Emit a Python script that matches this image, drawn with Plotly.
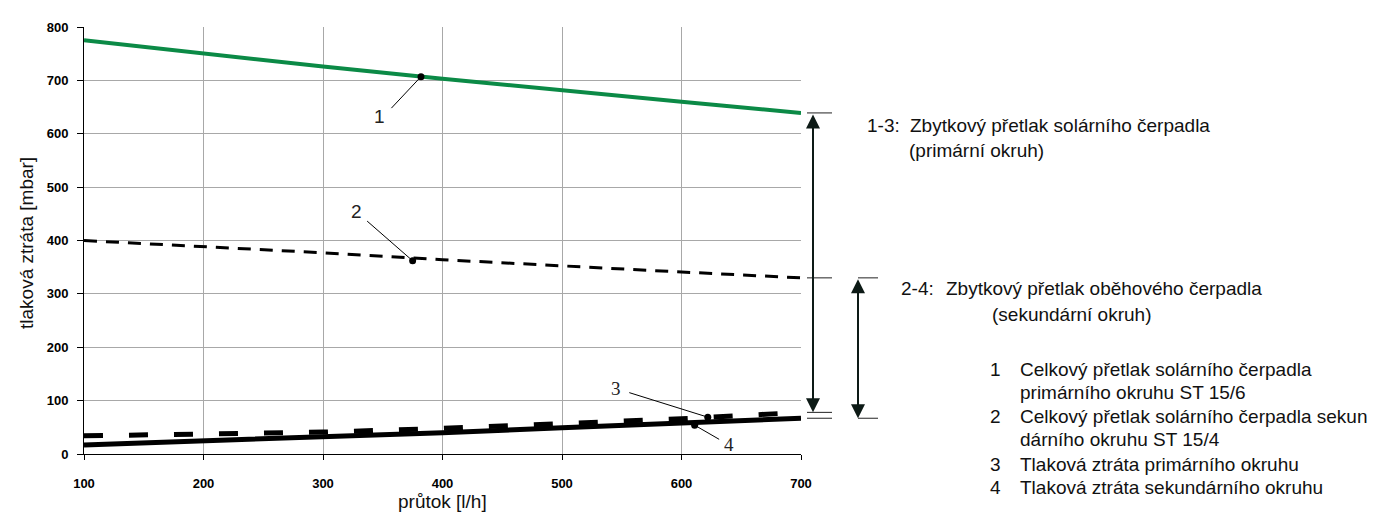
import plotly.graph_objects as go

# ---------------- data ----------------
flow = [100, 200, 300, 400, 500, 600, 700]
p1_total_primary = [775, 750, 726, 703, 681, 660, 639]
p2_total_secondary = [400, 389, 377, 364, 352, 341, 330]
p3_loss_primary = [34, 37, 41, 48, 56, 66, 78]
p4_loss_secondary = [17, 24, 32, 40, 49, 59, 67]

callout_labels = ["1", "2", "3", "4"]
callout_x = [382, 375, 622, 611]
callout_y = [707, 362, 69, 54]

x_ticks = [100, 200, 300, 400, 500, 600, 700]
y_ticks = [0, 100, 200, 300, 400, 500, 600, 700, 800]

x_title = "průtok [l/h]"
y_title = "tlaková ztráta [mbar]"

note_13 = ["1-3:", "Zbytkový přetlak solárního čerpadla", "(primární okruh)"]
note_24 = ["2-4:", "Zbytkový přetlak oběhového čerpadla", "(sekundární okruh)"]
legend_nums = ["1", "", "2", "", "3", "4"]
legend_texts = [
    "Celkový přetlak solárního čerpadla",
    "primárního okruhu ST 15/6",
    "Celkový přetlak solárního čerpadla sekun",
    "dárního okruhu ST 15/4",
    "Tlaková ztráta primárního okruhu",
    "Tlaková ztráta sekundárního okruhu",
]

# ---------------- layout geometry ----------------
W, H = 1379, 520
L, R, T, B = 76, 793, 15, 446
PW, PH = R - L, B - T


def pxx(X):
    return (X - L) / PW


def pxy(Y):
    return (B - Y) / PH


FONT = "Liberation Sans, Arial, sans-serif"

fig = go.Figure()

fig.add_trace(go.Scatter(x=flow, y=p1_total_primary, mode="lines",
                         line=dict(color="#0b8a46", width=4), hoverinfo="skip"))
fig.add_trace(go.Scatter(x=flow, y=p2_total_secondary, mode="lines",
                         line=dict(color="black", width=3, dash="13px,9px"), hoverinfo="skip"))
fig.add_trace(go.Scatter(x=flow, y=p4_loss_secondary, mode="lines",
                         line=dict(color="black", width=5), hoverinfo="skip"))
fig.add_trace(go.Scatter(x=flow, y=p3_loss_primary, mode="lines",
                         line=dict(color="black", width=5, dash="19px,26px"), hoverinfo="skip"))
fig.add_trace(go.Scatter(x=callout_x, y=callout_y, mode="markers",
                         marker=dict(color="black", size=7), hoverinfo="skip"))

# callout pointer lines and labels
offsets = [(-31, 33), (-47, -41), (-80, -25), (26, 15)]
text_shifts = [(-41, -40), (-56, 49), (-92, 29), (34, -19)]
label_fonts = [FONT, FONT, "Liberation Serif, Times New Roman, serif", "Liberation Serif, Times New Roman, serif"]
for lab, cx, cy, (ax, ay), (sx, sy), lf in zip(callout_labels, callout_x, callout_y,
                                               offsets, text_shifts, label_fonts):
    fig.add_annotation(x=cx, y=cy, xref="x", yref="y", text="", showarrow=True,
                       ax=ax, ay=ay, arrowhead=0, arrowwidth=1, arrowcolor="black",
                       standoff=0, startstandoff=0)
    fig.add_annotation(x=cx, y=cy, xref="x", yref="y", text=lab, showarrow=False,
                       xshift=sx, yshift=sy, font=dict(family=lf, size=19, color="#222"))

# double-headed arrows on the right
arrow_specs = [
    (805, p1_total_primary[-1], p3_loss_primary[-1]),
    (850, p2_total_secondary[-1], p4_loss_secondary[-1]),
]
for X, ytop, ybot in arrow_specs:
    fig.add_annotation(x=pxx(X), xref="paper", y=ybot, yref="y",
                       ax=0, ay=ytop, axref="pixel", ayref="y",
                       text="", showarrow=True, arrowside="end+start",
                       arrowhead=2, startarrowhead=2, arrowsize=1.4, startarrowsize=1.4,
                       arrowwidth=2, arrowcolor="#0d1a16", standoff=0, startstandoff=0)

# horizontal reference ticks
ref_lines = [
    (799, 824, p1_total_primary[-1]),
    (799, 824, p2_total_secondary[-1]),
    (850, 870, p2_total_secondary[-1]),
    (799, 824, p3_loss_primary[-1]),
    (799, 824, p4_loss_secondary[-1]),
    (850, 870, p4_loss_secondary[-1]),
]
for x0, x1, yv in ref_lines:
    fig.add_shape(type="line", xref="paper", yref="y", x0=pxx(x0), x1=pxx(x1),
                  y0=yv, y1=yv, line=dict(color="#222", width=1))

# right-side notes
TXT = dict(family=FONT, size=19, color="#111")


def note(X, Y, s):
    fig.add_annotation(x=pxx(X), y=pxy(Y), xref="paper", yref="paper", text=s,
                       showarrow=False, xanchor="left", yanchor="middle", font=TXT)


note(857, 114, note_13[0])
note(900, 114, note_13[1])
note(899, 140, note_13[2])
note(891, 279, note_24[0])
note(936, 279, note_24[1])
note(982, 305, note_24[2])

leg_y = [361, 384, 408, 431, 457, 480]
for num, txt, Y in zip(legend_nums, legend_texts, leg_y):
    if num:
        note(980, Y, num)
    note(1010, Y, txt)

# axis titles as annotations
fig.add_annotation(x=pxx(19), y=pxy(233), xref="paper", yref="paper", text=y_title,
                   textangle=-90, showarrow=False, xanchor="center", yanchor="middle",
                   font=TXT)
fig.add_annotation(x=pxx(434), y=pxy(494), xref="paper", yref="paper", text=x_title,
                   showarrow=False, xanchor="center", yanchor="middle", font=TXT)

fig.update_layout(
    width=W, height=H,
    margin=dict(l=L, r=W - R, t=T, b=H - B, pad=0),
    paper_bgcolor="white", plot_bgcolor="white",
    showlegend=False,
    font=dict(family=FONT, color="black"),
)
fig.update_xaxes(range=[100, 700], tickvals=x_ticks, showgrid=True, gridcolor="#a8a8a8",
                 gridwidth=1, zeroline=False, showline=True, linecolor="black", linewidth=1,
                 ticks="outside", ticklen=5, tickcolor="black",
                 tickfont=dict(family=FONT, size=13, color="black", weight="bold"),
                 ticklabelstandoff=12)
fig.update_yaxes(range=[0, 800], tickvals=y_ticks, showgrid=True, gridcolor="#a8a8a8",
                 gridwidth=1, zeroline=False, showline=True, linecolor="black", linewidth=1,
                 ticks="outside", ticklen=6, tickcolor="black",
                 tickfont=dict(family=FONT, size=13, color="black", weight="bold"),
                 ticklabelstandoff=6)

fig.write_html("out.html")
